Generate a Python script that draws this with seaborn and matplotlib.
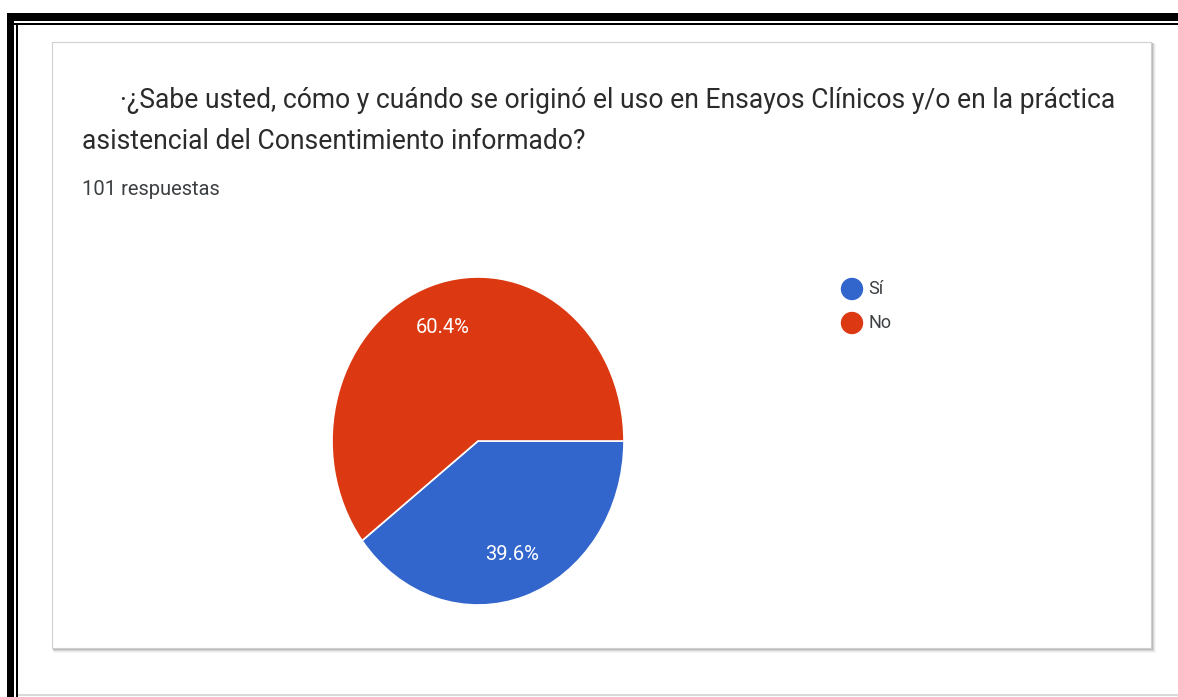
import matplotlib
matplotlib.use("Agg")
import matplotlib.pyplot as plt
from matplotlib.patches import Rectangle
import seaborn as sns

# Survey answers
question_line1 = "\u00b7\u00bfSabe usted, c\u00f3mo y cu\u00e1ndo se origin\u00f3 el uso en Ensayos Cl\u00ednicos y/o en la pr\u00e1ctica"
question_line2 = "asistencial del Consentimiento informado?"
total_label = "101 respuestas"
answers = ["S\u00ed", "No"]
counts = [40, 61]
answer_colors = ["#3366CC", "#DC3912"]

sns.set_theme(style="white")
plt.rcParams["font.family"] = ["Roboto", "DejaVu Sans"]
palette = sns.color_palette(answer_colors)

W, H = 1178, 697
fig = plt.figure(figsize=(W / 100, H / 100), dpi=100)
fig.patch.set_facecolor("white")


def fx(x):
    return x / W


def fy(y):
    return 1 - y / H


def box(x0, y0, x1, y1, **kw):
    fig.patches.append(Rectangle((fx(x0), fy(y1)), fx(x1) - fx(x0), fy(y0) - fy(y1),
                                 transform=fig.transFigure, figure=fig, zorder=-5, **kw))


# Outer double frame (top and left), thin rule at the bottom
box(7, 13, W, 21, color="black", lw=0)
box(7, 23, W, 25, color="black", lw=0)
box(7, 13, 14, H, color="black", lw=0)
box(16, 23, 18, H, color="black", lw=0)
box(18, 694, W, 696, color="#d9d9d9", lw=0)

# Card with soft drop shadow
for i, a in enumerate([0.05, 0.1, 0.16, 0.26, 0.45]):
    off = 5 - i
    box(52 + off * 0.3, 42 + off * 0.3, 1151 + off, 648 + off, color="#707070", alpha=a, lw=0)
box(52, 42, 1151, 648, facecolor="white", edgecolor="#d0d0d0", lw=0.8)

# Header texts
fig.text(fx(120), fy(108), question_line1, fontsize=19.1, color="#2b2b2b", va="baseline", ha="left")
fig.text(fx(82), fy(149), question_line2, fontsize=19.1, color="#2b2b2b", va="baseline", ha="left")
fig.text(fx(82), fy(195), total_label, fontsize=14.5, color="#3c4043", va="baseline", ha="left")

# Pie
ax = fig.add_axes([fx(332), fy(605), fx(624) - fx(332), fy(277) - fy(605)])
wedges, texts, autotexts = ax.pie(
    counts, colors=palette, startangle=0, counterclock=False,
    autopct="%1.1f%%", pctdistance=0.75,
    wedgeprops=dict(edgecolor="white", linewidth=1.2),
    textprops=dict(color="white", fontsize=14.5),
)
ax.set_aspect("auto")
ax.set_xlim(-1, 1)
ax.set_ylim(-1, 1)
ax.axis("off")
autotexts[0].set_position((0.233, -0.695))
autotexts[1].set_position((-0.24, 0.69))

# Legend
lax = fig.add_axes([0, 0, 1, 1], facecolor="none")
lax.set_xlim(0, W)
lax.set_ylim(H, 0)
lax.axis("off")
for i, (name, col) in enumerate(zip(answers, palette)):
    y = 289 + i * 34
    lax.scatter([852], [y], s=260, color=col, edgecolors="none")
    lax.text(868, y, name, fontsize=13, color="#3c4043", va="center", ha="left")

fig.savefig("out.png", dpi=100, facecolor="white")
